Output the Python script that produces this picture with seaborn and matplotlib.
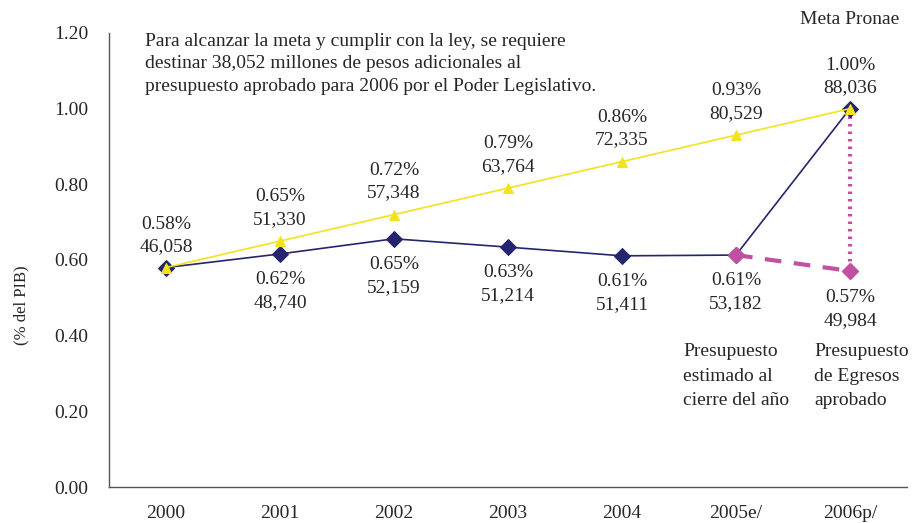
import numpy as np
import pandas as pd
import seaborn as sns
import matplotlib.pyplot as plt

years = ["2000", "2001", "2002", "2003", "2004", "2005e/", "2006p/"]
actual_pct = [0.58, 0.616, 0.656, 0.634, 0.611, 0.613, 1.00]
actual_labels = ["0.58%\n46,058", "0.62%\n48,740", "0.65%\n52,159", "0.63%\n51,214",
                 "0.61%\n51,411", "0.61%\n53,182", "1.00%\n88,036"]
goal_pct = [0.58, 0.65, 0.72, 0.79, 0.86, 0.93, 1.00]
goal_labels = ["", "0.65%\n51,330", "0.72%\n57,348", "0.79%\n63,764",
               "0.86%\n72,335", "0.93%\n80,529", ""]
approved_years = ["2005e/", "2006p/"]
approved_pct = [0.613, 0.571]
approved_label = "0.57%\n49,984"

navy = "#25256f"
yellow = "#f2e41c"
pink = "#c150a2"

sns.set_style("white")
plt.rcParams["font.family"] = ["Liberation Serif", "DejaVu Serif"]
plt.rcParams["font.size"] = 14

fig, ax = plt.subplots(figsize=(9.13, 5.23), dpi=100)
fig.subplots_adjust(left=0.1194, right=0.9934, bottom=0.0688, top=0.937)

pos = {y: i for i, y in enumerate(years)}
df = pd.DataFrame({"x": np.arange(len(years)), "actual": actual_pct, "goal": goal_pct})
df_app = pd.DataFrame({"x": [pos[y] for y in approved_years], "y": approved_pct})

# actual series (navy diamonds)
sns.lineplot(data=df, x="x", y="actual", ax=ax, color=navy, lw=1.2,
             marker="D", markersize=8, markeredgecolor=navy, zorder=3)
# approved budget (pink dashed)
ax.plot(df_app["x"], df_app["y"], color=pink, lw=3, dashes=(4, 3), zorder=2)
ax.plot(df_app["x"], df_app["y"], ls="none", marker="D", markersize=8,
        color=pink, markeredgecolor=pink, zorder=4)
# gap to goal (pink dotted vertical)
ax.plot([pos["2006p/"]] * 2, [goal_pct[-1], approved_pct[-1]], color=pink,
        lw=3, ls=(0, (0.6, 1.2)), zorder=2)
# goal path (yellow triangles)
sns.lineplot(data=df, x="x", y="goal", ax=ax, color=yellow, lw=1.2,
             marker="^", markersize=7, markeredgecolor=yellow, zorder=5)

px = 0.72  # pixels -> points
ls_lab = 1.45
for i, lab in enumerate(goal_labels):
    if lab:
        ax.annotate(lab, (i, goal_pct[i]), xytext=(0, 33 * px), textcoords="offset points",
                    ha="center", va="center", linespacing=ls_lab)
for i, lab in enumerate(actual_labels):
    if i == 0 or i == len(years) - 1:
        ax.annotate(lab, (i, actual_pct[i]), xytext=(0, 32 * px), textcoords="offset points",
                    ha="center", va="center", linespacing=ls_lab)
    else:
        ax.annotate(lab, (i, actual_pct[i]), xytext=(0, -37 * px), textcoords="offset points",
                    ha="center", va="center", linespacing=ls_lab)
ax.annotate(approved_label, (pos["2006p/"], approved_pct[-1]), xytext=(0, -38 * px),
            textcoords="offset points", ha="center", va="center", linespacing=ls_lab)

ax.text(pos["2006p/"], 1.235, "Meta Pronae", ha="center", va="center", clip_on=False)
ax.text(4.535, 0.293, "Presupuesto\nestimado al\ncierre del año", ha="left", va="center",
        linespacing=1.55)
ax.text(5.684, 0.293, "Presupuesto\nde Egresos\naprobado", ha="left", va="center",
        linespacing=1.55)
ax.text(-0.184, 1.118, "Para alcanzar la meta y cumplir con la ley, se requiere\n"
        "destinar 38,052 millones de pesos adicionales al\n"
        "presupuesto aprobado para 2006 por el Poder Legislativo.",
        ha="left", va="center", linespacing=1.42)

ax.set_xlim(-0.5, len(years) - 0.5)
ax.set_ylim(0, 1.2)
ax.set_yticks(np.arange(0, 1.21, 0.2))
ax.set_yticklabels([f"{v:.2f}" for v in np.arange(0, 1.21, 0.2)])
ax.set_xticks(np.arange(-0.5, len(years), 1.0))
ax.set_xticklabels([])
ax.set_xticks(np.arange(len(years)), minor=True)
ax.set_xticklabels(years, minor=True)
ax.tick_params(axis="x", which="major", direction="out", length=6, color="#444", width=1)
ax.tick_params(axis="x", which="minor", length=0, pad=13)
ax.tick_params(axis="y", direction="out", length=5, color="#444", width=1, pad=10)
ax.set_xlabel("")
ax.set_ylabel("(% del PIB)", fontsize=12)
ax.yaxis.set_label_coords(-0.1, 0.4)

sns.despine(ax=ax)
for s in ["left", "bottom"]:
    ax.spines[s].set_color("#555")
    ax.spines[s].set_linewidth(1)

fig.savefig("out.png", dpi=100)
